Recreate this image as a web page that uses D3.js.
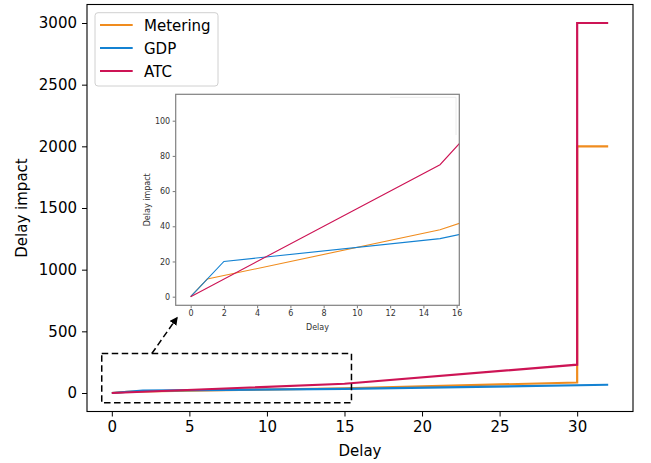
<!DOCTYPE html>
<html>
<head>
<meta charset="utf-8">
<script src="https://cdn.jsdelivr.net/npm/d3@7"></script>
<style>
  body { margin: 0; background: #fff; }
  text { font-family: "DejaVu Sans", sans-serif; }
</style>
</head>
<body>
<div id="chart"></div>
<script>
  const seriesNames = ["Metering", "GDP", "ATC"];
  const meteringX = [0, 1, 15, 30, 30, 32];
  const meteringY = [0, 10, 38, 85, 2000, 2000];
  const gdpX = [0, 2, 15, 32];
  const gdpY = [0, 20, 33, 67];
  const atcX = [0, 15, 30, 30, 32];
  const atcY = [0, 75, 230, 3000, 3000];

  const mainXTicks = [0, 5, 10, 15, 20, 25, 30];
  const mainYTicks = [0, 500, 1000, 1500, 2000, 2500, 3000];
  const insetXTicks = [0, 2, 4, 6, 8, 10, 12, 14, 16];
  const insetYTicks = [0, 20, 40, 60, 80, 100];

  // zoom box in data units and the arrow pointing to the inset
  const zoomBoxX = [-0.65, 15.45];
  const zoomBoxY = [-80, 320];
  const arrowFrom = [2.58, 320];
  const arrowTo = [4.19, 608];

  const colors = ["#f08c1e", "#1482d2", "#cd1455"];
  const series = [
    { name: seriesNames[0], x: meteringX, y: meteringY },
    { name: seriesNames[1], x: gdpX, y: gdpY },
    { name: seriesNames[2], x: atcX, y: atcY }
  ].map((s, i) => ({ ...s, color: colors[i], pts: s.x.map((v, j) => [v, s.y[j]]) }));

  const W = 651, H = 463;
  const svg = d3.select("#chart").append("svg")
    .attr("width", W).attr("height", H);
  svg.append("rect").attr("width", W).attr("height", H).attr("fill", "#fff");

  const defs = svg.append("defs");
  defs.append("marker")
    .attr("id", "arrowhead")
    .attr("viewBox", "0 0 10 10")
    .attr("refX", 8).attr("refY", 5)
    .attr("markerWidth", 5.5).attr("markerHeight", 5.5)
    .attr("markerUnits", "strokeWidth")
    .attr("orient", "auto")
    .append("path").attr("d", "M0,0L10,5L0,10z").attr("fill", "#000");

  // main axes
  const plot = { left: 87, right: 633, top: 4.5, bottom: 411.5 };
  const x = d3.scaleLinear().domain([-1.6, 33.6]).range([plot.left, plot.right]);
  const y = d3.scaleLinear().domain([-150, 3150]).range([plot.bottom, plot.top]);

  const line = d3.line().x(d => x(d[0])).y(d => y(d[1]));

  svg.append("g")
    .selectAll("path")
    .data(series)
    .enter()
    .append("path")
    .attr("d", d => line(d.pts))
    .attr("fill", "none")
    .attr("stroke", d => d.color)
    .attr("stroke-width", 2.2)
    .attr("stroke-linejoin", "miter");

  const xAxis = svg.append("g")
    .attr("transform", `translate(0,${plot.bottom})`)
    .call(d3.axisBottom(x).tickValues(mainXTicks).tickFormat(d3.format("d"))
      .tickSize(5).tickPadding(5).tickSizeOuter(0));
  const yAxis = svg.append("g")
    .attr("transform", `translate(${plot.left},0)`)
    .call(d3.axisLeft(y).tickValues(mainYTicks).tickFormat(d3.format("d"))
      .tickSize(5).tickPadding(5).tickSizeOuter(0));
  [xAxis, yAxis].forEach(a => {
    a.select(".domain").remove();
    a.selectAll("text").attr("font-size", 15).attr("fill", "#000").attr("font-family", "DejaVu Sans");
    a.selectAll("line").attr("stroke", "#000").attr("stroke-width", 1);
  });

  svg.append("rect")
    .attr("x", plot.left).attr("y", plot.top)
    .attr("width", plot.right - plot.left).attr("height", plot.bottom - plot.top)
    .attr("fill", "none").attr("stroke", "#000").attr("stroke-width", 1.1);

  svg.append("text")
    .attr("x", (plot.left + plot.right) / 2)
    .attr("y", 455.5)
    .attr("text-anchor", "middle")
    .attr("font-size", 15)
    .text("Delay");

  svg.append("text")
    .attr("transform", `translate(27,${(plot.top + plot.bottom) / 2}) rotate(-90)`)
    .attr("text-anchor", "middle")
    .attr("font-size", 15)
    .text("Delay impact");

  // dashed zoom box + arrow
  svg.append("rect")
    .attr("x", x(zoomBoxX[0])).attr("y", y(zoomBoxY[1]))
    .attr("width", x(zoomBoxX[1]) - x(zoomBoxX[0]))
    .attr("height", y(zoomBoxY[0]) - y(zoomBoxY[1]))
    .attr("fill", "none").attr("stroke", "#000")
    .attr("stroke-width", 1.5).attr("stroke-dasharray", "6.5,3.5");

  svg.append("line")
    .attr("x1", x(arrowFrom[0])).attr("y1", y(arrowFrom[1]))
    .attr("x2", x(arrowTo[0])).attr("y2", y(arrowTo[1]))
    .attr("stroke", "#000").attr("stroke-width", 1.5)
    .attr("stroke-dasharray", "6.5,3.5")
    .attr("marker-end", "url(#arrowhead)");

  // legend
  const legend = svg.append("g");
  legend.append("rect")
    .attr("x", 95).attr("y", 12.7).attr("width", 123).attr("height", 73.3)
    .attr("rx", 3).attr("fill", "#fff").attr("fill-opacity", 0.8)
    .attr("stroke", "#d0d0d0").attr("stroke-width", 1);
  const items = legend.selectAll(".item")
    .data(series)
    .enter()
    .append("g")
    .attr("transform", (d, i) => `translate(0,${25 + i * 23})`);
  items.append("line")
    .attr("x1", 100).attr("x2", 132.7)
    .attr("stroke", d => d.color).attr("stroke-width", 2.2);
  items.append("text")
    .attr("x", 144).attr("y", 5.5)
    .attr("font-size", 15)
    .text(d => d.name);

  // inset
  const ins = { left: 175.7, right: 459.3, top: 94.3, bottom: 305.3 };
  const xi = d3.scaleLinear().domain([-0.9, 16.16]).range([ins.left, ins.right]);
  const yi = d3.scaleLinear().domain([-4.9, 115]).range([ins.bottom, ins.top]);
  const linei = d3.line().x(d => xi(d[0])).y(d => yi(d[1]));

  svg.append("rect")
    .attr("x", ins.left).attr("y", ins.top)
    .attr("width", ins.right - ins.left).attr("height", ins.bottom - ins.top)
    .attr("fill", "#fff");

  defs.append("clipPath").attr("id", "insetClip")
    .append("rect")
    .attr("x", ins.left).attr("y", ins.top)
    .attr("width", ins.right - ins.left).attr("height", ins.bottom - ins.top);

  svg.append("path")
    .attr("d", `M390,97.3H456V135`)
    .attr("fill", "none").attr("stroke", "#ececec").attr("stroke-width", 1);

  svg.append("g")
    .attr("clip-path", "url(#insetClip)")
    .selectAll("path")
    .data(series)
    .enter()
    .append("path")
    .attr("d", d => linei(d.pts))
    .attr("fill", "none")
    .attr("stroke", d => d.color)
    .attr("stroke-width", 1.1);

  const xiAxis = svg.append("g")
    .attr("transform", `translate(0,${ins.bottom})`)
    .call(d3.axisBottom(xi).tickValues(insetXTicks).tickSize(3).tickPadding(2.5).tickSizeOuter(0));
  const yiAxis = svg.append("g")
    .attr("transform", `translate(${ins.left},0)`)
    .call(d3.axisLeft(yi).tickValues(insetYTicks).tickSize(3).tickPadding(2.5).tickSizeOuter(0));
  [xiAxis, yiAxis].forEach(a => {
    a.select(".domain").remove();
    a.selectAll("text").attr("font-size", 8).attr("fill", "#333").attr("font-family", "DejaVu Sans");
    a.selectAll("line").attr("stroke", "#555").attr("stroke-width", 0.8);
  });

  svg.append("rect")
    .attr("x", ins.left).attr("y", ins.top)
    .attr("width", ins.right - ins.left).attr("height", ins.bottom - ins.top)
    .attr("fill", "none").attr("stroke", "#808080").attr("stroke-width", 1.2);

  svg.append("text")
    .attr("x", (ins.left + ins.right) / 2)
    .attr("y", 329.5)
    .attr("text-anchor", "middle")
    .attr("font-size", 8)
    .attr("fill", "#333")
    .text("Delay");

  svg.append("text")
    .attr("transform", `translate(149.5,${(ins.top + ins.bottom) / 2}) rotate(-90)`)
    .attr("text-anchor", "middle")
    .attr("font-size", 8)
    .attr("fill", "#333")
    .text("Delay impact");
</script>
</body>
</html>
